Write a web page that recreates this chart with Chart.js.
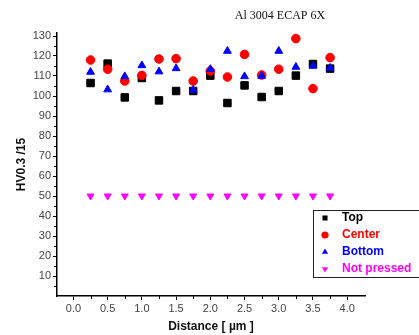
<!DOCTYPE html>
<html lang="en">
<head>
    <meta charset="UTF-8">
    <title>Al 3004 ECAP 6X</title>
    <script src="https://cdn.jsdelivr.net/npm/chart.js"></script>
    <style>
        html, body { margin: 0; padding: 0; background: #fff; }
        #wrap { width: 419px; height: 335px; position: relative; }
    </style>
</head>
<body>
    <div id="wrap"><canvas id="grafico"></canvas></div>

    <script>
        const distance = [0.25, 0.5, 0.75, 1.0, 1.25, 1.5, 1.75, 2.0, 2.25, 2.5, 2.75, 3.0, 3.25, 3.5, 3.75];
        const topVals = [106.5, 116.2, 99.3, 109, 97.8, 102.5, 102.5, 110.2, 96.5, 105.3, 99.5, 102.5, 110.2, 116, 113.7];
        const centerVals = [118, 113.4, 107.5, 110.3, 118.5, 118.7, 107.5, 112.5, 109.5, 120.8, 110.5, 113.4, 128.7, 103.7, 119.2];
        const bottomVals = [112, 103.2, 109.8, 115.3, 112.2, 113.8, 103, 113.4, 122.5, 109.8, 110, 122.5, 114.5, 115, 114];
        const notPressedVals = [50, 50, 50, 50, 50, 50, 50, 50, 50, 50, 50, 50, 50, 50, 50];
        const seriesNames = ['Top', 'Center', 'Bottom', 'Not pressed'];
        const xTicks = [0, 0.5, 1, 1.5, 2, 2.5, 3, 3.5, 4];
        const yTicks = [10, 20, 30, 40, 50, 60, 70, 80, 90, 100, 110, 120, 130];

        function pares(ys) {
            return distance.map((d, i) => ({ x: d, y: ys[i] }));
        }

        const datasets = [
            { label: seriesNames[0], data: pares(topVals), pointStyle: 'rect', pointRadius: 5.3, backgroundColor: '#000', borderColor: '#000', order: 3 },
            { label: seriesNames[1], data: pares(centerVals), pointStyle: 'circle', pointRadius: 4.3, backgroundColor: '#f00', borderColor: '#f00', order: 2 },
            { label: seriesNames[2], data: pares(bottomVals), pointStyle: 'triangle', pointRadius: 4.5, backgroundColor: '#00f', borderColor: '#00f', order: 1 },
            { label: seriesNames[3], data: pares(notPressedVals), pointStyle: 'triangle', rotation: 180, pointRadius: 4, backgroundColor: '#f0f', borderColor: '#f0f', order: 4 }
        ];

        // titulo, ticks menores e legenda dentro do grafico
        const extras = {
            id: 'extras',
            afterDraw(chart) {
                const ctx = chart.ctx;
                const xs = chart.scales.x, ys = chart.scales.y;
                ctx.save();
                ctx.strokeStyle = '#000';
                ctx.lineWidth = 1;
                ctx.beginPath();
                for (let v = 0.25; v < 4.25; v += 0.5) {
                    const px = Math.round(xs.getPixelForValue(v)) + 0.5;
                    ctx.moveTo(px, ys.bottom);
                    ctx.lineTo(px, ys.bottom + 3);
                }
                for (let v = 5; v < 131; v += 10) {
                    const py = Math.round(ys.getPixelForValue(v)) + 0.5;
                    ctx.moveTo(xs.left, py);
                    ctx.lineTo(xs.left - 3, py);
                }
                ctx.stroke();

                ctx.fillStyle = '#111';
                ctx.font = '12px "Liberation Serif"';
                ctx.textAlign = 'center';
                ctx.textBaseline = 'middle';
                ctx.fillText('Al 3004 ECAP 6X', 280, 16);

                ctx.strokeStyle = '#222';
                ctx.strokeRect(313.5, 210.5, 120, 67);
                ctx.font = 'bold 12px "Liberation Sans"';
                ctx.textAlign = 'left';
                chart.data.datasets.forEach((ds, i) => {
                    const y = 218 + i * 17;
                    ctx.fillStyle = ds.backgroundColor;
                    Chart.helpers.drawPoint(ctx, { pointStyle: ds.pointStyle, rotation: ds.rotation || 0, radius: 3.6, borderWidth: 0 }, 325, y);
                    ctx.fillText(ds.label, 342, y);
                });
                ctx.restore();
            }
        };

        const grafico = new Chart(document.getElementById('grafico'), {
            type: 'scatter',
            data: { datasets: datasets },
            options: {
                responsive: true,
                maintainAspectRatio: false,
                animation: false,
                layout: { padding: { top: 33, right: 54, left: 0, bottom: 0 } },
                plugins: { legend: { display: false }, tooltip: { enabled: false } },
                scales: {
                    x: {
                        type: 'linear', min: -0.24, max: 4.26,
                        afterBuildTicks: s => { s.ticks = xTicks.map(v => ({ value: v })); },
                        afterFit: s => { s.height = 39; },
                        grid: { drawOnChartArea: false, drawTicks: true, tickLength: 4, color: '#000', lineWidth: 1 },
                        border: { display: true, color: '#000', width: 1.5 },
                        ticks: { color: '#444', font: { family: 'Liberation Sans', size: 11 }, padding: 2, maxRotation: 0,
                                 callback: v => v.toFixed(1) },
                        title: { display: true, text: 'Distance [ µm ]', color: '#111',
                                 font: { family: 'Liberation Sans', size: 12, weight: 'bold' }, padding: { top: 2, bottom: 1 } }
                    },
                    y: {
                        min: 0, max: 131.5,
                        afterBuildTicks: s => { s.ticks = yTicks.map(v => ({ value: v })); },
                        afterFit: s => { s.width = 57; },
                        grid: { drawOnChartArea: false, drawTicks: true, tickLength: 4, color: '#000', lineWidth: 1 },
                        border: { display: true, color: '#000', width: 1.5 },
                        ticks: { color: '#444', font: { family: 'Liberation Sans', size: 11 }, padding: 2 },
                        title: { display: true, text: 'HV0.3 /15', color: '#111',
                                 font: { family: 'Liberation Sans', size: 12, weight: 'bold' }, padding: { top: 14, bottom: 0 } }
                    }
                }
            },
            plugins: [extras]
        });
    </script>
</body>
</html>
